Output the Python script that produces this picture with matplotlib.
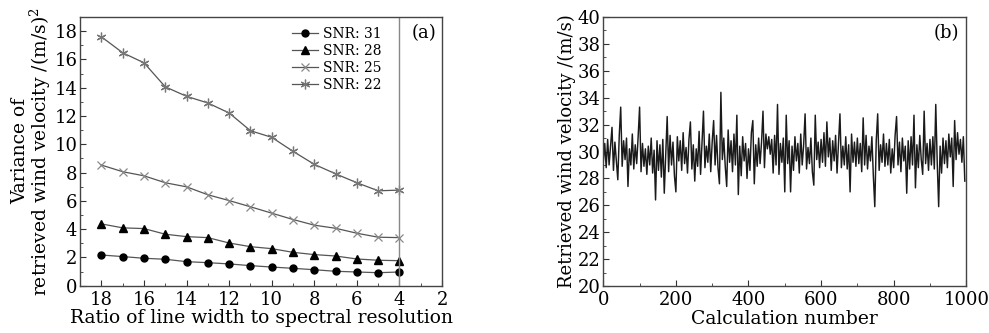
import numpy as np
import matplotlib
matplotlib.use("Agg")
import matplotlib.pyplot as plt
from matplotlib.ticker import MultipleLocator

plt.rcParams['font.family'] = ['DejaVu Serif']
plt.rcParams['mathtext.fontset'] = 'dejavuserif'

# ---- panel (a): variance vs ratio ----
ratio = [18, 17, 16, 15, 14, 13, 12, 11, 10, 9, 8, 7, 6, 5, 4]
snr31 = [2.17, 2.06, 1.94, 1.87, 1.70, 1.63, 1.54, 1.42, 1.32, 1.23, 1.13, 1.02, 0.97, 0.92, 0.97]
snr28 = [4.37, 4.09, 4.04, 3.64, 3.47, 3.40, 3.02, 2.76, 2.62, 2.36, 2.20, 2.10, 1.89, 1.80, 1.77]
snr25 = [8.53, 8.06, 7.77, 7.28, 6.99, 6.43, 6.02, 5.58, 5.13, 4.68, 4.28, 4.06, 3.71, 3.43, 3.40]
snr22 = [17.6, 16.47, 15.76, 14.06, 13.39, 12.92, 12.21, 10.96, 10.49, 9.50, 8.58, 7.91, 7.28, 6.71, 6.76]

# ---- panel (b): retrieved wind velocity, read every 4 calculations ----
calc_step = 4
velocity = [
    29.2, 30.6, 28.8, 30.9, 29.0, 30.4, 31.8, 28.6, 30.7, 29.3, 27.9, 31.2, 33.3, 28.9, 30.8, 29.4, 31.0, 27.4, 30.2, 29.0, 31.3, 28.7, 30.5, 29.1, 31.1,
    33.3, 28.5, 30.6, 28.9, 30.2, 28.3, 30.4, 29.0, 31.0, 28.4, 30.1, 26.4, 30.8, 28.6, 30.5, 28.1, 30.9, 26.9, 29.8, 32.6, 28.5, 31.2, 29.0, 30.7, 28.2,
    27.0, 31.1, 29.3, 30.8, 28.6, 31.4, 29.1, 30.3, 28.4, 30.9, 32.2, 28.7, 30.5, 27.8, 30.2, 28.9, 31.5, 28.3, 30.6, 33.0, 28.8, 30.4, 29.2, 31.3, 28.5,
    30.7, 32.3, 29.0, 31.2, 28.8, 27.6, 34.4, 29.4, 31.0, 28.9, 27.4, 31.6, 29.2, 30.8, 28.5, 31.3, 29.0, 32.7, 26.8, 30.4, 28.2, 31.1, 29.3, 30.6, 28.0,
    30.2, 28.6, 31.4, 32.3, 27.6, 30.5, 28.9, 31.0, 29.1, 30.7, 33.0, 28.8, 31.3, 30.2, 31.1, 29.8, 30.9, 28.4, 31.2, 29.0, 33.5, 28.3, 30.6, 29.2, 31.0,
    27.0, 32.7, 29.1, 30.8, 27.0, 30.4, 28.6, 31.1, 29.3, 30.6, 28.4, 31.3, 29.0, 30.5, 32.8, 28.7, 30.3, 29.1, 31.0, 28.5, 27.5, 32.7, 29.4, 30.7, 28.8,
    30.9, 29.2, 31.4, 28.9, 32.2, 29.6, 31.0, 28.6, 30.8, 29.3, 31.2, 28.4, 30.6, 32.8, 28.8, 30.4, 29.0, 31.1, 28.7, 30.5, 27.0, 31.3, 29.2, 30.7, 28.9,
    31.0, 29.1, 30.6, 28.5, 32.5, 29.0, 31.2, 28.7, 30.4, 29.3, 31.1, 28.2, 25.9, 30.8, 32.8, 28.6, 30.5, 29.2, 31.3, 28.9, 30.6, 29.0, 30.9, 28.4, 30.2,
    28.8, 31.2, 32.6, 29.0, 30.7, 28.5, 31.0, 29.3, 30.4, 26.9, 30.8, 28.7, 31.1, 29.0, 32.7, 27.3, 30.5, 28.8, 31.2, 29.4, 28.3, 33.0, 29.1, 30.6, 28.6,
    30.9, 29.0, 31.1, 28.7, 33.5, 29.2, 25.9, 30.4, 28.4, 31.0, 29.1, 30.8, 28.8, 31.3, 29.6, 31.0, 27.4, 32.3, 29.4, 31.4, 29.8, 30.9, 29.2, 31.1, 27.8,
]
calc = np.arange(len(velocity)) * calc_step

fig = plt.figure(figsize=(9.89, 3.33), dpi=100)
ax1 = fig.add_axes([0.081, 0.142, 0.366, 0.807])
ax2 = fig.add_axes([0.610, 0.141, 0.367, 0.808])

line_col = '#555555'
ax1.plot(ratio, snr31, color=line_col, lw=0.9, marker='o', ms=5, mfc='black', mec='black', label='SNR: 31')
ax1.plot(ratio, snr28, color=line_col, lw=0.9, marker='^', ms=5.5, mfc='black', mec='black', label='SNR: 28')
ax1.plot(ratio, snr25, color=line_col, lw=0.9, marker='x', ms=6, mec='#888888', mew=0.9, label='SNR: 25')
ax1.plot(ratio, snr22, color=line_col, lw=0.9, marker=(6, 2, 0), ms=7, mec='#777777', mew=0.9, label='SNR: 22')
ax1.axvline(4, color='#888888', lw=1)

ax1.set_xlim(19, 2)
ax1.set_ylim(0, 19)
ax1.xaxis.set_major_locator(MultipleLocator(2))
ax1.xaxis.set_minor_locator(MultipleLocator(1))
ax1.yaxis.set_major_locator(MultipleLocator(2))
ax1.yaxis.set_minor_locator(MultipleLocator(1))
ax1.set_xlabel('Ratio of line width to spectral resolution', fontsize=13.5, labelpad=0.5)
ax1.set_ylabel('Variance of\nretrieved wind velocity /(m/s)$^2$', fontsize=13.5, labelpad=1, linespacing=0.9)
ax1.text(0.985, 0.94, '(a)', transform=ax1.transAxes, ha='right', va='center', fontsize=13)
ax1.legend(loc='upper left', bbox_to_anchor=(0.57, 0.985), frameon=False, fontsize=10,
           handlelength=1.9, labelspacing=0.22, handletextpad=0.3, borderaxespad=0)

# dense noisy trace, drawn a bit heavier to give the dark band of the original
ax2.plot(calc, velocity, color='#1a1a1a', lw=1.05)
ax2.set_xlim(0, 1000)
ax2.set_ylim(20, 40)
ax2.xaxis.set_major_locator(MultipleLocator(200))
ax2.xaxis.set_minor_locator(MultipleLocator(100))
ax2.yaxis.set_major_locator(MultipleLocator(2))
ax2.yaxis.set_minor_locator(MultipleLocator(1))
ax2.set_xlabel('Calculation number', fontsize=13.5, labelpad=0.5)
ax2.set_ylabel('Retrieved wind velocity /(m/s)', fontsize=13, labelpad=1)
ax2.text(0.98, 0.94, '(b)', transform=ax2.transAxes, ha='right', va='center', fontsize=13)

for ax in (ax1, ax2):
    ax.tick_params(which='both', direction='in', labelsize=13, color='#333333')
    ax.tick_params(axis='x', pad=3.5)
    ax.tick_params(axis='y', pad=2)
    ax.tick_params(which='major', length=4)
    ax.tick_params(which='minor', length=2)
    for s in ax.spines.values():
        s.set_color('#444444')
        s.set_linewidth(1)

fig.savefig('out.png', dpi=100)
